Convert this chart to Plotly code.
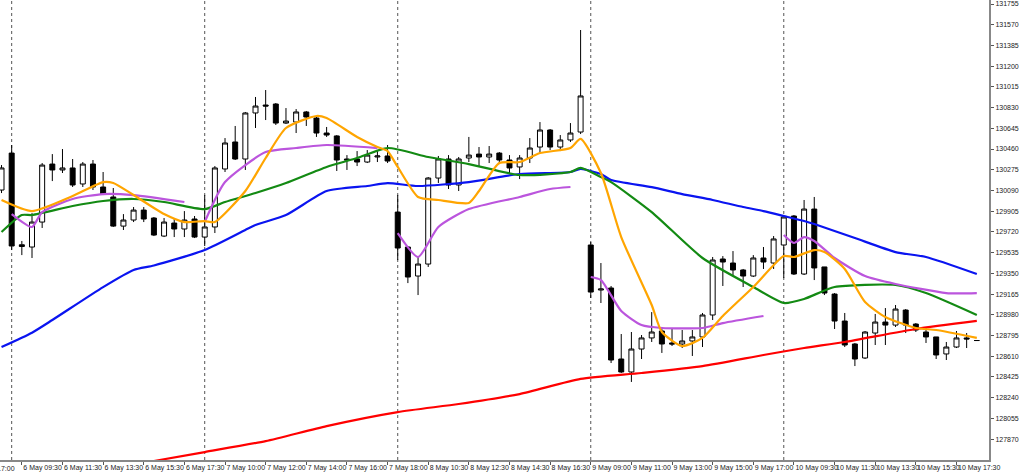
import plotly.graph_objects as go

# ---- candle data (30-minute bars, index 0 = 5 May 18:00) ----
opens = [130094, 130424, 129605, 129585, 129808, 130326, 130273, 130291, 130148, 130326,
         130121, 130032, 129772, 129826, 129915, 129844, 129683, 129799, 129746, 129835,
         129674, 129764, 130282, 130523, 130371, 130782, 130853, 130862, 130692, 130701,
         130791, 130737, 130603, 130577, 130371, 130371, 130344, 130389, 130398, 129897,
         129585, 129326, 129433, 130201, 130371, 130139, 130380, 130415, 130389, 130424,
         130362, 130300, 130380, 130478, 130630, 130478, 130541, 130612, 129603, 129201,
         129219, 128585, 128469, 128674, 128773, 128835, 128728, 128719, 128746, 128782,
         128978, 129478, 129442, 129380, 129326, 129487, 129442, 129603, 129862, 129344,
         129924, 129407, 129165, 128924, 128719, 128594, 128817, 128915, 128888, 129022,
         128897, 128826, 128782, 128630, 128692, 128773, 128750]
highs = [130317, 130496, 129639, 129888, 130335, 130415, 130460, 130371, 130344, 130362,
         130255, 130112, 129879, 129942, 129942, 129853, 129844, 129835, 129906, 129862,
         130049, 130308, 130558, 130666, 130791, 130925, 130987, 130871, 130826, 130817,
         130800, 130755, 130657, 130585, 130406, 130442, 130451, 130442, 130496, 130049,
         129594, 129504, 130210, 130398, 130406, 130389, 130568, 130478, 130487, 130433,
         130406, 130406, 130558, 130701, 130639, 130585, 130692, 131523, 129630, 129442,
         129237, 128808, 128826, 128799, 129004, 128871, 128862, 128844, 128844, 128996,
         129496, 129504, 129549, 129389, 129513, 129585, 129683, 129862, 129871, 130005,
         130032, 129407, 129174, 128996, 128728, 128835, 128987, 129040, 129067, 129031,
         128906, 128862, 128782, 128737, 128835, 128817, 128750]
lows = [130067, 129558, 129513, 129487, 129755, 130174, 130246, 130121, 130121, 130094,
        130049, 129764, 129737, 129808, 129808, 129683, 129674, 129674, 129674, 129665,
        129594, 129710, 130255, 130362, 130273, 130648, 130719, 130675, 130684, 130603,
        130666, 130568, 130568, 130264, 130273, 130308, 130335, 130344, 130335, 129469,
        129263, 129156, 129407, 130157, 130103, 130085, 130344, 130300, 130335, 130326,
        130246, 130192, 130335, 130424, 130451, 130442, 130523, 130594, 129130, 129085,
        128549, 128460, 128380, 128585, 128737, 128639, 128701, 128683, 128612, 128692,
        128933, 129237, 129335, 129228, 129317, 129389, 129389, 129308, 129335, 129335,
        129290, 129156, 128853, 128692, 128522, 128585, 128710, 128710, 128871, 128817,
        128826, 128728, 128585, 128576, 128683, 128683, 128750]
closes = [130291, 129594, 129590, 129808, 130317, 130273, 130291, 130139, 130326, 130121,
          130058, 129772, 129826, 129915, 129835, 129692, 129808, 129746, 129826, 129674,
          129764, 130291, 130514, 130371, 130782, 130844, 130844, 130692, 130710, 130791,
          130746, 130603, 130585, 130362, 130362, 130344, 130406, 130398, 130353, 129576,
          129317, 129433, 130201, 130371, 130139, 130371, 130406, 130389, 130415, 130362,
          130291, 130380, 130469, 130630, 130478, 130541, 130603, 130934, 129183, 129210,
          128576, 128469, 128674, 128773, 128826, 128719, 128719, 128746, 128782, 128978,
          129469, 129451, 129380, 129326, 129487, 129451, 129657, 129853, 129344, 129924,
          129398, 129174, 128924, 128710, 128585, 128826, 128915, 128888, 129031, 128888,
          128844, 128782, 128621, 128692, 128773, 128764, 128750]
bar_index = list(range(len(opens)))

# ---- indicator lines (bar index, value) ----
red_x = [15, 20, 26, 32, 39, 45, 51, 57, 63, 69, 75, 79, 83, 90, 96]
red_y = [127674, 127754, 127852, 127986, 128111, 128183, 128272, 128407, 128460, 128522,
         128621, 128683, 128737, 128853, 128925]

blue_x = [0, 3, 5, 10, 13, 15, 20, 24, 25, 28, 32, 36, 38, 41, 46, 51, 56, 57, 59, 60,
          64, 67, 70, 73, 75, 77, 79, 80, 84, 88, 91, 96]
blue_y = [128692, 128820, 128933, 129227, 129380, 129420, 129558, 129737, 129781, 129871,
          130085, 130130, 130156, 130130, 130165, 130237, 130255, 130282, 130237, 130183,
          130120, 130058, 130005, 129942, 129906, 129862, 129817, 129790, 129665, 129540,
          129496, 129344]

green_x = [0, 2, 3, 7, 10, 13, 16, 20, 22, 25, 28, 32, 35, 38, 42, 46, 51, 56, 57, 59,
           60, 64, 69, 74, 77, 79, 82, 88, 91, 96]
green_y = [129719, 129871, 129871, 129951, 129996, 130014, 129987, 129924, 129987, 130067,
           130156, 130300, 130380, 130469, 130389, 130326, 130228, 130255, 130291, 130210,
           130165, 129897, 129487, 129228, 129085, 129121, 129228, 129246, 129174, 128978]

orange_x = [0, 3, 7, 10, 11, 13, 16, 18, 20, 21, 24, 26, 28, 31, 32, 35, 37, 38, 39, 41,
            43, 46, 47, 49, 51, 53, 56, 57, 59, 61, 64, 65, 67, 69, 71, 74, 77, 78, 80, 81,
            83, 85, 87, 90, 92, 96]
orange_y = [130005, 129906, 130040, 130165, 130157, 130049, 129879, 129808, 129817, 129808,
            130085, 130380, 130648, 130755, 130737, 130568, 130478, 130442, 130300, 130032,
            130005, 129978, 130085, 130335, 130344, 130424, 130469, 130550, 130246, 129674,
            129067, 128826, 128701, 128773, 128969, 129228, 129505, 129496, 129558, 129541,
            129389, 129094, 128960, 128862, 128844, 128773]

# purple resets every day: one segment per session
purple_x = [[1, 3, 4, 7, 10, 13, 18],
            [20, 22, 26, 29, 32, 37],
            [39, 41, 43, 46, 51, 54, 56],
            [58, 59, 61, 63, 65, 69, 71, 75],
            [77, 78, 79, 80, 82, 85, 88, 93, 96]]
purple_y = [[129879, 129764, 129897, 130014, 130058, 130049, 129987],
            [129808, 130165, 130433, 130469, 130496, 130469],
            [129710, 129496, 129764, 129924, 130032, 130103, 130121],
            [129317, 129290, 129014, 128888, 128862, 128862, 128906, 128969],
            [129692, 129621, 129674, 129639, 129487, 129326, 129255, 129174, 129174]]

# ---- axes ----
day_starts = [1, 20, 39, 58, 77]
tick_pos = [2, 6, 10, 14, 18, 22, 26, 30, 34, 38, 42, 46, 50, 54, 58, 62, 66, 70, 74,
            78, 82, 86, 90, 94]
tick_text = ["6 May 09:30", "6 May 11:30", "6 May 13:30", "6 May 15:30", "6 May 17:30",
             "7 May 10:00", "7 May 12:00", "7 May 14:00", "7 May 16:00", "7 May 18:00",
             "8 May 10:30", "8 May 12:30", "8 May 14:30", "8 May 16:30",
             "9 May 09:00", "9 May 11:00", "9 May 13:00", "9 May 15:00", "9 May 17:00",
             "10 May 09:30", "10 May 11:30", "10 May 13:30", "10 May 15:30", "10 May 17:30"]
first_label = "5 May 17:00"
price_ticks = [131755 - 185 * k for k in range(22)]

fig = go.Figure()

for xs, ys, col in [(red_x, red_y, "#ff0000"), (blue_x, blue_y, "#0a14f0"),
                    (green_x, green_y, "#138a13")]:
    fig.add_trace(go.Scatter(x=xs, y=ys, mode="lines",
                             line=dict(color=col, width=2.2, shape="spline", smoothing=0.6),
                             hoverinfo="skip", showlegend=False))

for xs, ys in zip(purple_x, purple_y):
    fig.add_trace(go.Scatter(x=xs, y=ys, mode="lines",
                             line=dict(color="#bb55dd", width=2.2, shape="spline", smoothing=0.6),
                             hoverinfo="skip", showlegend=False))

fig.add_trace(go.Candlestick(
    x=bar_index, open=opens, high=highs, low=lows, close=closes,
    increasing=dict(line=dict(color="#000000", width=1), fillcolor="#ffffff"),
    decreasing=dict(line=dict(color="#000000", width=1), fillcolor="#000000"),
    whiskerwidth=0, hoverinfo="skip", showlegend=False))

fig.add_trace(go.Scatter(x=orange_x, y=orange_y, mode="lines",
                         line=dict(color="#ffa500", width=2.2, shape="spline", smoothing=0.6),
                         hoverinfo="skip", showlegend=False))

for d in day_starts:
    fig.add_shape(type="line", x0=d, x1=d, y0=0, y1=1, xref="x", yref="paper",
                  line=dict(color="#555555", width=1, dash="dot"), layer="below")

font = dict(family="Liberation Sans, Arial, sans-serif", size=7, color="#222222")

fig.add_annotation(text=first_label, xref="paper", yref="paper", x=0, y=0,
                   xanchor="right", yanchor="top", xshift=17, yshift=-3,
                   showarrow=False, font=font)

fig.update_layout(
    width=1024, height=474,
    margin=dict(l=0, r=35, t=0, b=14),
    paper_bgcolor="#ffffff", plot_bgcolor="#ffffff",
    showlegend=False,
    xaxis=dict(range=[-0.15, 97.2], tickmode="array", tickvals=tick_pos, ticktext=tick_text,
               tickangle=0, ticks="outside", ticklen=3, tickcolor="#555555",
               showgrid=False, zeroline=False,
               showline=True, linecolor="#888888", linewidth=2, tickfont=font,
               ticklabelposition="outside right", rangeslider=dict(visible=False),
               fixedrange=True),
    yaxis=dict(range=[127683, 131791], side="right", tickmode="array", tickvals=price_ticks,
               ticktext=[str(v) for v in price_ticks],
               ticks="outside", ticklen=3, tickcolor="#555555", showgrid=False, zeroline=False,
               showline=True, linecolor="#888888", linewidth=2, tickfont=font, fixedrange=True),
)

fig.write_html("out.html", config={"displayModeBar": False})

# remove the default page margin so the 1024x474 figure fills the window exactly
with open("out.html", "r", encoding="utf-8") as f:
    html = f.read()
html = html.replace("<head>", "<head><style>html,body{margin:0;padding:0;overflow:hidden;}</style>", 1)
with open("out.html", "w", encoding="utf-8") as f:
    f.write(html)
